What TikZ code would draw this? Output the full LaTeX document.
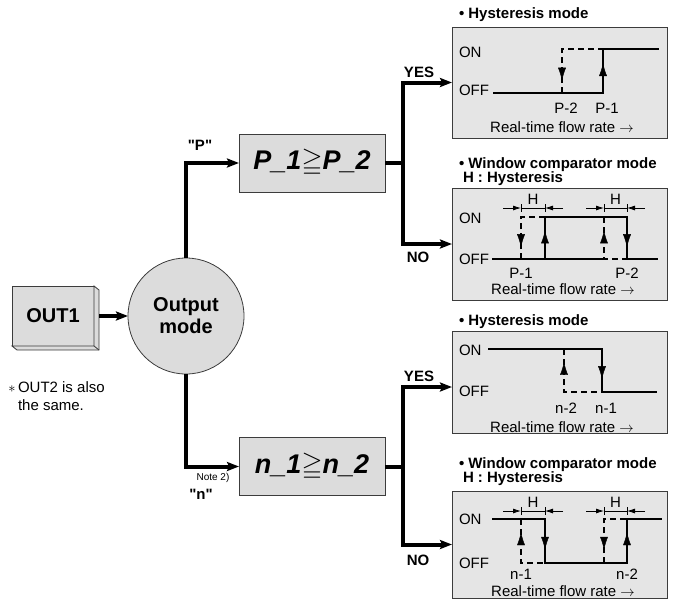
\documentclass[tikz,border=0pt]{standalone}
\usepackage{amssymb}
\usepackage{fontspec}
\setmainfont{Liberation Sans}
\usetikzlibrary{arrows.meta,positioning,calc,decorations.markings}
\definecolor{boxgray}{RGB}{220,220,220}
\definecolor{panelgray}{RGB}{229,229,229}
\definecolor{edgegray}{RGB}{60,60,60}

\begin{document}
\begin{tikzpicture}[x=1pt, y=-1pt,
  every node/.style={font=\fontsize{15}{18}\selectfont, inner sep=0pt, outer sep=0pt},
  outbox/.style={draw=edgegray, line width=0.8pt, fill=boxgray, minimum width=82pt, minimum height=60pt, font=\bfseries\fontsize{20}{22}\selectfont},
  modec/.style={circle, draw=edgegray, line width=0.8pt, fill=boxgray, minimum size=116pt, align=center, font=\bfseries\fontsize{20}{22}\selectfont},
  disp/.style={draw=edgegray, line width=0.8pt, fill=boxgray, minimum width=146pt, minimum height=58pt, font=\bfseries\itshape\fontsize{27}{27}\selectfont},
  panel/.style={draw=edgegray, line width=0.8pt, fill=panelgray, minimum width=215pt},
  ttl/.style={anchor=base west, font=\bfseries\fontsize{15}{16}\selectfont},
  yn/.style={font=\bfseries\fontsize{15}{18}\selectfont},
  lvl/.style={anchor=west},
  flow/.style={line width=4pt},
  flowarr/.style={line width=4pt, -{Stealth[length=12pt,width=9pt,inset=2pt]}},
  sig/.style={line width=2.6pt},
  sigd/.style={line width=2.6pt, dash pattern=on 6pt off 4pt},
  midarr/.style={decorate, decoration={markings, mark=at position #1 with {\arrow{Latex[length=13pt,width=8pt]}}}},
  hline/.style={line width=0.8pt},
  harr/.style={line width=0.8pt, -{Latex[length=8pt,width=5pt]}}
]
\useasboundingbox (0,0) rectangle (674,600);

% left part
\node[outbox] (out) at (53,316) {OUT1};
\draw[draw=edgegray, line width=0.8pt, fill=boxgray] (out.north east) -- ++(5,4) -- ++(0,60) -- ++(-82,0) -- (out.south west) -- (out.south east) -- cycle;
\draw[edgegray, line width=0.8pt] (out.south east) -- ++(5,4);
\node[modec, right=34pt of out] (mode) {Output\\mode};
\draw[flowarr, shorten <=5pt] (out) -- (mode);
\node[anchor=north west, align=left] (same) at (18,382) {\llap{$\ast$\,}OUT2 is also\\the same.};

% displays
\node[disp] (pdisp) at (312,163) {P\_1$\geqq$P\_2};
\node[disp] (ndisp) at (312,466.5) {n\_1$\geqq$n\_2};
\draw[flowarr] (mode.north) |- (pdisp.west);
\draw[flowarr] (mode.south) |- (ndisp.west);
\node[yn] (plbl) at (200,145) {\textquotedbl P\textquotedbl};
\node[font=\fontsize{10}{12}\selectfont] (note) at (213,478) {Note 2)};
\node[yn] (nlbl) at (201,494) {\textquotedbl n\textquotedbl};

% panels
\node[panel, minimum height=111pt] (hp) at (559.5,82.5) {};
\node[panel, minimum height=112pt] (wp) at (559.5,244) {};
\node[panel, minimum height=102pt] (hn) at (559.5,382) {};
\node[panel, minimum height=107pt] (wn) at (559.5,544.5) {};

% branches
\coordinate (pj) at (403,163);
\coordinate (nj) at (403,467);
\draw[flow] (pdisp.east) -- (pj);
\draw[flowarr] (pj) |- (hp.west);
\draw[flowarr] (pj) |- (wp.west);
\draw[flow] (ndisp.east) -- (ndisp.east -| nj);
\draw[flowarr] (nj) |- (hn.west |- 0,387);
\draw[flowarr] (nj) |- (wn.west);
\node[yn] (pyes) at (419,72) {YES};
\node[yn] (pno) at (418,257) {NO};
\node[yn] (nyes) at (419,376) {YES};
\node[yn] (nno) at (418,560) {NO};

% titles
\node[ttl] (hpt) at (459,18) {• Hysteresis mode};
\node[ttl] (wpt) at (459,168) {• Window comparator mode};
\node[ttl] (wph) at (463,182) {H : Hysteresis};
\node[ttl] (hnt) at (459,325) {• Hysteresis mode};
\node[ttl] (wnt) at (459,468) {• Window comparator mode};
\node[ttl] (wnh) at (463,482) {H : Hysteresis};

% hysteresis, P side
\node[lvl] (hp-on) at (459,52) {ON};
\node[lvl] (hp-off) at (459,90) {OFF};
\draw[sigd] (562,93) -- (562,49) -- (603,49);
\draw[sig] (493,93) -- (603,93) -- (603,49) -- (659,49);
\path[midarr=0.68] (603,93) -- (603,49);
\path[midarr=0.72] (562,49) -- (562,93);
\node (hp-p2) at (566,108) {P-2};
\node (hp-p1) at (607,108) {P-1};
\node (hp-rt) at (562,127) {Real-time flow rate $\rightarrow$};

% window, P side
\node[lvl] (wp-on) at (459,218) {ON};
\node[lvl] (wp-off) at (459,259) {OFF};
\draw[sigd] (521,259) -- (521,217) -- (545,217);
\draw[sigd] (604,217) -- (604,259) -- (627,259);
\draw[sig] (492,259) -- (604,259);
\draw[sig] (545,259) -- (545,217) -- (627,217) -- (627,259) -- (658,259);
\path[midarr=0.72] (521,217) -- (521,259);
\path[midarr=0.68] (545,259) -- (545,217);
\path[midarr=0.68] (604,259) -- (604,217);
\path[midarr=0.72] (627,217) -- (627,259);
\node (wp-p1) at (521,273) {P-1};
\node (wp-p2) at (627,273) {P-2};
\node (wp-rt) at (563,289) {Real-time flow rate $\rightarrow$};

% hysteresis, n side
\node[lvl] (hn-on) at (459,350) {ON};
\node[lvl] (hn-off) at (459,391) {OFF};
\draw[sigd] (564,349) -- (564,392) -- (602,392);
\draw[sig] (488,349) -- (602,349) -- (602,392) -- (657,392);
\path[midarr=0.7] (602,349) -- (602,392);
\path[midarr=0.7] (564,392) -- (564,349);
\node (hn-n2) at (566,408) {n-2};
\node (hn-n1) at (606,408) {n-1};
\node (hn-rt) at (562,427) {Real-time flow rate $\rightarrow$};

% window, n side
\node[lvl] (wn-on) at (459,519) {ON};
\node[lvl] (wn-off) at (459,563) {OFF};
\draw[sigd] (521,519) -- (521,563) -- (545,563);
\draw[sigd] (604,563) -- (604,519) -- (627,519);
\draw[sig] (492,519) -- (545,519) -- (545,563) -- (627,563) -- (627,519) -- (662,519);
\path[midarr=0.7] (545,519) -- (545,563);
\path[midarr=0.7] (627,563) -- (627,519);
\path[midarr=0.7] (521,563) -- (521,519);
\path[midarr=0.7] (604,519) -- (604,563);
\node (wn-n1) at (521,574) {n-1};
\node (wn-n2) at (627,574) {n-2};
\node (wn-rt) at (563,591) {Real-time flow rate $\rightarrow$};

% H marks
\foreach \xa/\xb/\yy [count=\i] in {521/545/208, 604/627/208, 521/545/511, 604/627/511} {
  \draw[hline] (\xa,\yy-4) -- (\xa,\yy+4);
  \draw[hline] (\xb,\yy-4) -- (\xb,\yy+4);
  \draw[hline] (\xa,\yy) -- (\xb,\yy);
  \draw[harr] (\xa-18,\yy) -- (\xa,\yy);
  \draw[harr] (\xb+18,\yy) -- (\xb,\yy);
  \node (hlbl\i) at ({(\xa+\xb)/2},\yy-9) {H};
}
\end{tikzpicture}
\end{document}
